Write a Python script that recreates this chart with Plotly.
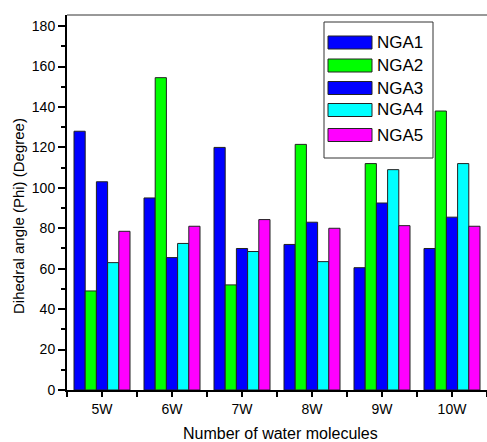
import plotly.graph_objects as go

categories = ["5W", "6W", "7W", "8W", "9W", "10W"]
series_names = ["NGA1", "NGA2", "NGA3", "NGA4", "NGA5"]
nga1 = [128, 95, 120, 72, 60.5, 70]
nga2 = [49, 154.5, 52, 121.5, 112, 138]
nga3 = [103, 65.5, 70, 83, 92.5, 85.5]
nga4 = [63, 72.5, 68.5, 63.5, 109, 112]
nga5 = [78.5, 81, 84.3, 80, 81.3, 81]
colors = ["#0000FF", "#00FF00", "#0000FF", "#00FFFF", "#FF00FF"]
y_ticks = [0, 20, 40, 60, 80, 100, 120, 140, 160, 180]

series = [nga1, nga2, nga3, nga4, nga5]
xpos = list(range(len(categories)))

W, H = 487, 442
ML, MR, MT, MB = 67, 0, 15, 52
PW, PH = W - ML - MR, H - MT - MB
FONT = "Liberation Sans, Arial, sans-serif"

fig = go.Figure()
for name, vals, col in zip(series_names, series, colors):
    fig.add_trace(go.Bar(
        x=xpos, y=vals, name=name,
        marker=dict(color=col, line=dict(color="#222222", width=1)),
        showlegend=False,
    ))

def px(xp):
    return (xp - ML) / PW

def py(yp):
    return (H - MB - yp) / PH

shapes = []
annotations = []
# top frame line
shapes.append(dict(type="line", xref="paper", yref="paper", x0=0, x1=1, y0=1, y1=1,
                   line=dict(color="#333333", width=1)))
# legend box
shapes.append(dict(type="rect", xref="paper", yref="paper",
                   x0=px(324), x1=px(433), y0=py(158), y1=py(22),
                   line=dict(color="#333333", width=1), fillcolor="white"))
row_y = [42.5, 65.5, 88, 110, 135]
for name, col, ry in zip(series_names, colors, row_y):
    shapes.append(dict(type="rect", xref="paper", yref="paper",
                       x0=px(328), x1=px(372), y0=py(ry + 6.5), y1=py(ry - 6.5),
                       line=dict(color="#222222", width=1), fillcolor=col))
    annotations.append(dict(text=name, xref="paper", yref="paper", x=px(375), y=py(ry),
                            xanchor="left", yanchor="middle", showarrow=False,
                            font=dict(family=FONT, size=17, color="black")))

annotations.append(dict(text="Dihedral angle (Phi) (Degree)", xref="paper", yref="paper",
                        x=px(18), y=py(216), textangle=-90, showarrow=False,
                        xanchor="center", yanchor="middle",
                        font=dict(family=FONT, size=15, color="black")))
annotations.append(dict(text="Number of water molecules", xref="paper", yref="paper",
                        x=px(280), y=py(433), showarrow=False,
                        xanchor="center", yanchor="middle",
                        font=dict(family=FONT, size=16, color="black")))

fig.update_layout(
    width=W, height=H,
    margin=dict(l=ML, r=MR, t=MT, b=MB),
    paper_bgcolor="white", plot_bgcolor="white",
    barmode="group", bargap=0.2, bargroupgap=0,
    shapes=shapes, annotations=annotations,
    font=dict(family=FONT, color="black"),
)
fig.update_xaxes(
    range=[-0.5, 5.5], tickvals=xpos, ticktext=categories,
    showgrid=False, zeroline=False,
    showline=True, linecolor="black", linewidth=2,
    ticks="outside", ticklen=5, tickwidth=2, tickcolor="black",
    minor=dict(tick0=0.5, dtick=1, ticks="outside", ticklen=5, tickwidth=2, tickcolor="black"),
    tickfont=dict(family=FONT, size=14, color="black"),
)
fig.update_yaxes(
    range=[0, 185.5], tickvals=y_ticks,
    showgrid=False, zeroline=False,
    showline=True, linecolor="black", linewidth=2,
    ticks="outside", ticklen=7, tickwidth=2, tickcolor="black",
    minor=dict(tick0=10, dtick=20, ticks="outside", ticklen=4, tickwidth=2, tickcolor="black"),
    tickfont=dict(family=FONT, size=14, color="black"),
)

fig.write_html("out.html")
